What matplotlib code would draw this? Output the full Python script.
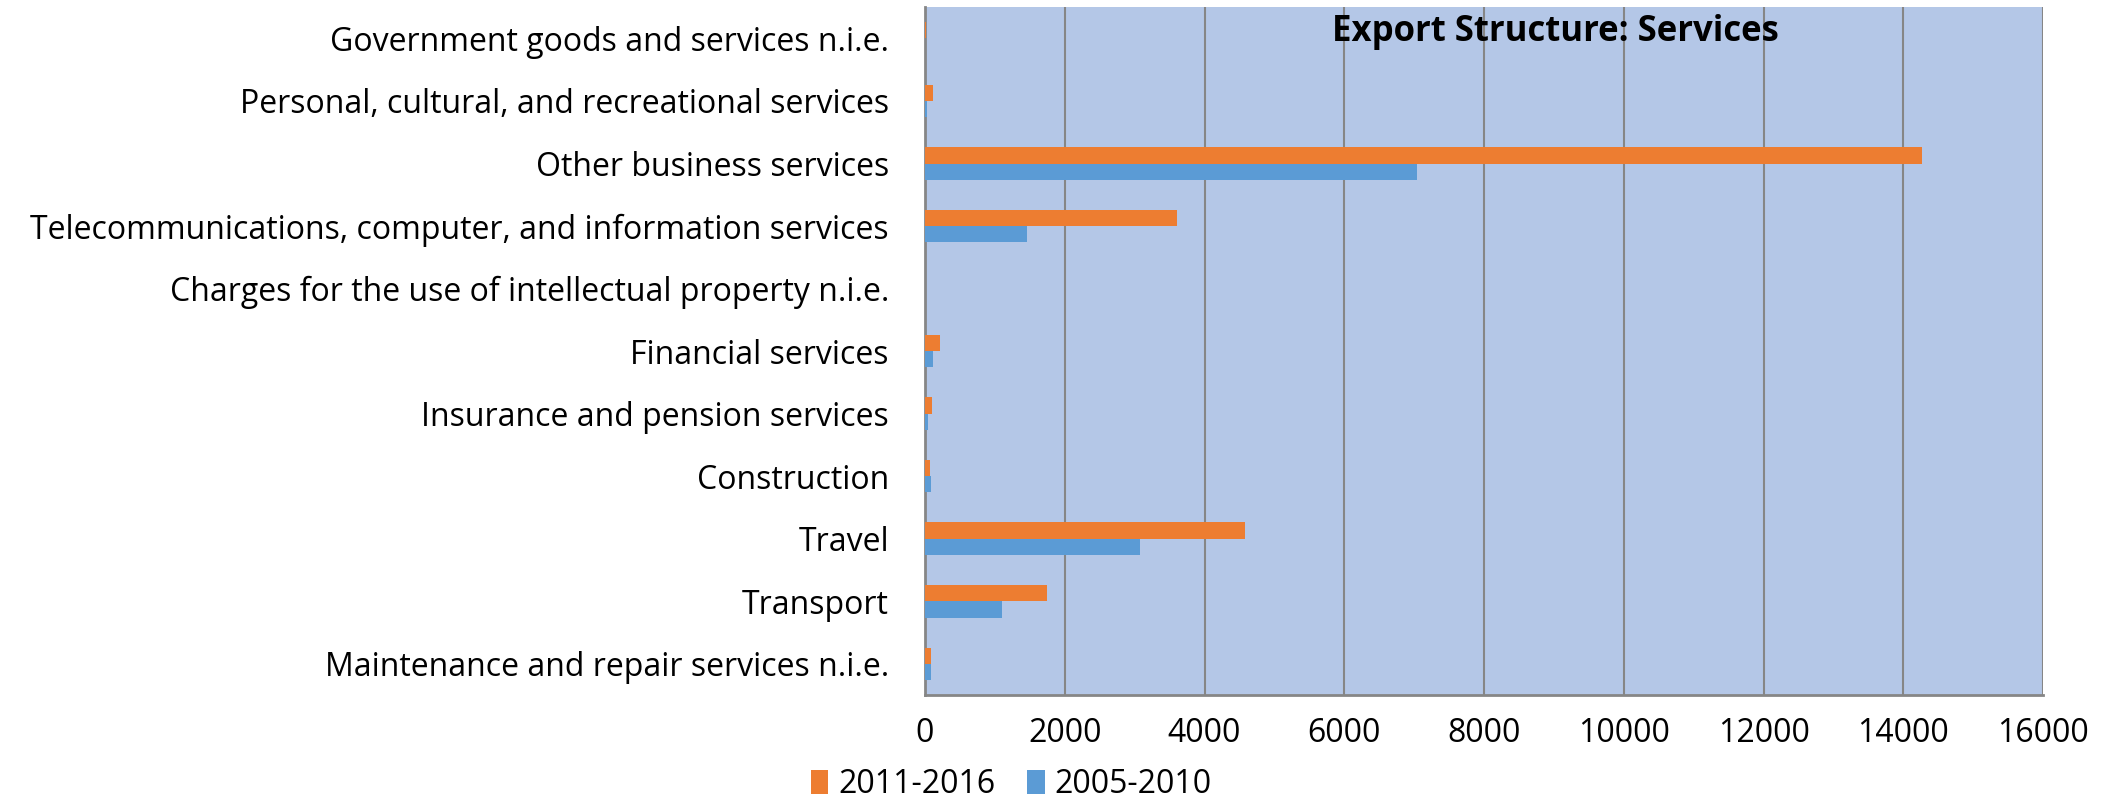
import matplotlib.pyplot as plt
import numpy as np

categorias = [
    "Maintenance and repair services n.i.e.",
    "Transport",
    "Travel",
    "Construction",
    "Insurance and pension services",
    "Financial services",
    "Charges for the use of intellectual property n.i.e.",
    "Telecommunications, computer, and information services",
    "Other business services",
    "Personal, cultural, and recreational services",
    "Government goods and services n.i.e.",
]
valores_2011_2016 = [82, 1742, 4580, 72, 96, 215, 0, 3600, 14270, 115, 15]
valores_2005_2010 = [82, 1101, 3073, 90, 43, 115, 0, 1465, 7040, 29, 0]
xticks = list(range(0, 16001, 2000))

laranja = '#ED7D31'
azul = '#5B9BD5'
fundo = '#B4C7E7'
cinza = '#868686'

plt.rcParams['font.family'] = ['Open Sans', 'DejaVu Sans']

fig = plt.figure(figsize=(21.08, 7.98), dpi=100)
ax = fig.add_axes([0.4388, 0.129, 0.9692 - 0.4388, 0.862])

y = np.arange(len(categorias))
h = 0.26
ax.barh(y + h / 2, valores_2011_2016, height=h, color=laranja, label='2011-2016', zorder=3)
ax.barh(y - h / 2, valores_2005_2010, height=h, color=azul, label='2005-2010', zorder=3)

ax.set_facecolor(fundo)
ax.set_xlim(0, 16000)
ax.set_ylim(-0.5, len(categorias) - 0.5)
ax.set_xticks(xticks)
ax.set_xticklabels([str(t) for t in xticks], fontsize=23)
ax.set_yticks(y)
ax.set_yticklabels(categorias, fontsize=23)
ax.tick_params(axis='both', length=0)
ax.tick_params(axis='x', pad=16)
ax.tick_params(axis='y', pad=26)
ax.grid(True, axis='x', color=cinza, linewidth=1.5, zorder=1)

for lado in ['top', 'right']:
    ax.spines[lado].set_visible(False)
for lado in ['left', 'bottom']:
    ax.spines[lado].set_color(cinza)
    ax.spines[lado].set_linewidth(2)

ax.text(0.564, 0.99, 'Export Structure: Services', transform=ax.transAxes,
        ha='center', va='top', fontsize=25, fontweight='bold')

fig.legend(loc='lower left', bbox_to_anchor=(0.371, -0.04), ncol=2, frameon=False,
           fontsize=23, handlelength=0.55, handleheight=0.8, handletextpad=0.3,
           columnspacing=1.0)

fig.savefig('out.png', dpi=100)
